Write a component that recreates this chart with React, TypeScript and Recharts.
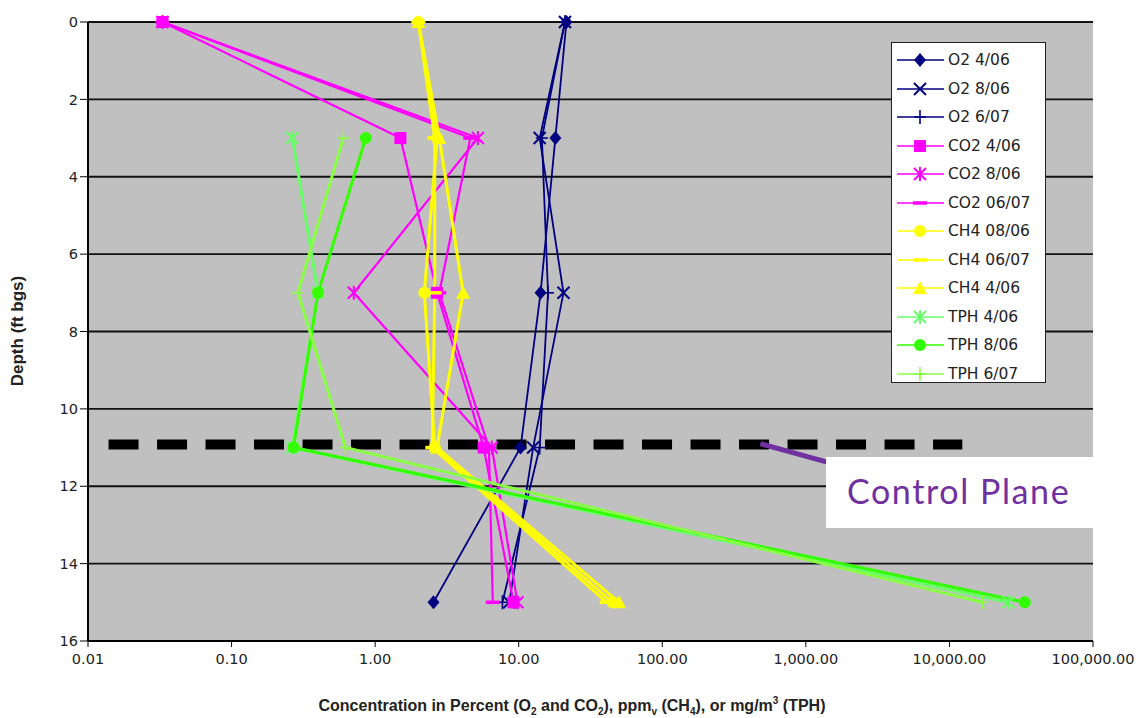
import React from "react";
import {
  LineChart,
  Line,
  XAxis,
  YAxis,
  CartesianGrid,
  ReferenceLine,
} from "recharts";

// depth samples (ft bgs)
const depths = [0, 3, 7, 11, 15];
const tphDepths = [3, 7, 11, 15];

// O2 (%)
const o2Apr06 = [21.5, 18, 14.2, 10.3, 2.55];
const o2Aug06 = [21, 14, 20.5, 12.6, 8.6];
const o2Jun07 = [21, 14.5, 16, 14, 7.7];

// CO2 (%)
const co2Apr06 = [0.033, 1.5, 2.7, 5.7, 9.2];
const co2Aug06 = [0.033, 5.2, 0.71, 6.5, 9.8];
const co2Jun07 = [0.033, 4.6, 2.8, 6.2, 6.6];

// CH4 (ppmv)
const ch4Aug06 = [2.0, 2.7, 2.2, 2.6, 45];
const ch4Jun07 = [2.0, 2.6, 2.6, 2.5, 41];
const ch4Apr06 = [2.0, 2.8, 4.1, 2.7, 50];

// TPH (mg/m3)
const tphApr06 = [0.265, 0.4, 0.265, 25700];
const tphAug06 = [0.86, 0.4, 0.27, 33500];
const tphJun07 = [0.6, 0.29, 0.62, 17000];

const xTicks = [0.01, 0.1, 1, 10, 100, 1000, 10000, 100000];
const yTicks = [0, 2, 4, 6, 8, 10, 12, 14, 16];

type MarkerType = "diamond" | "x" | "plus" | "square" | "star" | "dash" | "circle" | "triangle";

interface Series {
  name: string;
  color: string;
  marker: MarkerType;
  width: number;
  values: number[];
  depth: number[];
}

const NAVY = "#000080";
const MAGENTA = "#ff00ff";
const YELLOW = "#ffff00";

const series: Series[] = [
  { name: "O2 4/06", color: NAVY, marker: "diamond", width: 1.8, values: o2Apr06, depth: depths },
  { name: "O2 8/06", color: NAVY, marker: "x", width: 1.8, values: o2Aug06, depth: depths },
  { name: "O2 6/07", color: NAVY, marker: "plus", width: 1.8, values: o2Jun07, depth: depths },
  { name: "CO2 4/06", color: MAGENTA, marker: "square", width: 2.2, values: co2Apr06, depth: depths },
  { name: "CO2 8/06", color: MAGENTA, marker: "star", width: 2.2, values: co2Aug06, depth: depths },
  { name: "CO2 06/07", color: MAGENTA, marker: "dash", width: 2.2, values: co2Jun07, depth: depths },
  { name: "CH4 08/06", color: YELLOW, marker: "circle", width: 3, values: ch4Aug06, depth: depths },
  { name: "CH4 06/07", color: YELLOW, marker: "dash", width: 3, values: ch4Jun07, depth: depths },
  { name: "CH4 4/06", color: YELLOW, marker: "triangle", width: 3, values: ch4Apr06, depth: depths },
  { name: "TPH 4/06", color: "#66ff66", marker: "star", width: 3, values: tphApr06, depth: tphDepths },
  { name: "TPH 8/06", color: "#33ff00", marker: "circle", width: 3, values: tphAug06, depth: tphDepths },
  { name: "TPH 6/07", color: "#88ff44", marker: "plus", width: 3, values: tphJun07, depth: tphDepths },
];

const Marker = ({ type, cx, cy, color }: { type: MarkerType; cx: number; cy: number; color: string }) => {
  const s = 6;
  switch (type) {
    case "diamond":
      return <polygon points={`${cx},${cy - s - 1} ${cx + s},${cy} ${cx},${cy + s + 1} ${cx - s},${cy}`} fill={color} />;
    case "square":
      return <rect x={cx - s} y={cy - s} width={2 * s} height={2 * s} fill={color} />;
    case "circle":
      return <circle cx={cx} cy={cy} r={s} fill={color} />;
    case "triangle":
      return <polygon points={`${cx},${cy - s - 1} ${cx + s + 1},${cy + s} ${cx - s - 1},${cy + s}`} fill={color} />;
    case "x":
      return (
        <g stroke={color} strokeWidth={2}>
          <line x1={cx - s} y1={cy - s} x2={cx + s} y2={cy + s} />
          <line x1={cx - s} y1={cy + s} x2={cx + s} y2={cy - s} />
        </g>
      );
    case "star":
      return (
        <g stroke={color} strokeWidth={2}>
          <line x1={cx - s} y1={cy - s} x2={cx + s} y2={cy + s} />
          <line x1={cx - s} y1={cy + s} x2={cx + s} y2={cy - s} />
          <line x1={cx} y1={cy - s - 1} x2={cx} y2={cy + s + 1} />
        </g>
      );
    case "plus":
      return (
        <g stroke={color} strokeWidth={1.6}>
          <line x1={cx} y1={cy - s - 1} x2={cx} y2={cy + s + 1} />
          <line x1={cx - s} y1={cy} x2={cx + s} y2={cy} />
        </g>
      );
    case "dash":
      return <line x1={cx - s - 1} y1={cy} x2={cx + s + 1} y2={cy} stroke={color} strokeWidth={3.5} />;
  }
  return null;
};

const fmtTick = (v: number) =>
  v < 0.05 ? "0.01" : v.toLocaleString("en-US", { minimumFractionDigits: 2, maximumFractionDigits: 2 });

const LegendBox = () => (
  <div
    style={{
      position: "absolute",
      left: 891,
      top: 42,
      background: "#fff",
      border: "1.5px solid #222",
      width: 155,
      height: 341,
      boxSizing: "border-box",
      paddingTop: 3,
    }}
  >
    {series.map((s) => (
      <div key={s.name} style={{ display: "flex", alignItems: "center", height: 28.5 }}>
        <svg width={56} height={20} style={{ flex: "none" }}>
          <line x1={5} y1={10} x2={52} y2={10} stroke={s.color} strokeWidth={1.5} />
          <Marker type={s.marker} cx={28} cy={10} color={s.color} />
        </svg>
        <span style={{ fontFamily: "DejaVu Sans", fontSize: 15.5, color: "#222" }}>{s.name}</span>
      </div>
    ))}
  </div>
);

const sub = { fontSize: 10 };

const App: React.FC = () => {
  return (
    <div style={{ position: "absolute", left: 0, top: 0, width: 1141, height: 718, background: "#fff" }}>
      <LineChart width={1141} height={718} margin={{ top: 22, right: 48, bottom: 47, left: 28 }}>
        <CartesianGrid
          horizontal
          vertical={false}
          fill="#c0c0c0"
          stroke="#111"
          strokeWidth={1.8}
          horizontalValues={yTicks}
        />
        <XAxis
          type="number"
          dataKey="c"
          scale="log"
          domain={[0.01, 100000]}
          ticks={xTicks}
          tickFormatter={fmtTick}
          allowDataOverflow
          axisLine={{ stroke: "#000", strokeWidth: 2 }}
          tickLine={{ stroke: "#000" }}
          tickSize={6}
          tickMargin={7}
          tick={{ fontFamily: "DejaVu Sans", fontSize: 14.5, fill: "#222" }}
        />
        <YAxis
          type="number"
          dataKey="d"
          domain={[0, 16]}
          ticks={yTicks}
          reversed
          width={60}
          axisLine={{ stroke: "#000", strokeWidth: 2 }}
          tickLine={{ stroke: "#000" }}
          tickSize={8}
          tick={{ fontFamily: "DejaVu Sans", fontSize: 14.5, fill: "#222" }}
        />
        <ReferenceLine
          segment={[
            { x: 0.0139, y: 10.92 },
            { x: 12290, y: 10.92 },
          ]}
          stroke="#000"
          strokeWidth={10}
          strokeDasharray="30 18.5"
        />
        <ReferenceLine
          segment={[
            { x: 482, y: 10.9 },
            { x: 1390, y: 11.37 },
          ]}
          stroke="#7030a0"
          strokeWidth={5}
        />
        {series.map((s) => (
          <Line
            key={s.name}
            name={s.name}
            data={s.values.map((v, i) => ({ c: v, d: s.depth[i] }))}
            dataKey="d"
            stroke={s.color}
            strokeWidth={s.width}
            isAnimationActive={false}
            dot={(p: any) => (
              <g key={`${s.name}-${p.index}`}>
                <Marker type={s.marker} cx={p.cx} cy={p.cy} color={s.color} />
              </g>
            )}
            activeDot={false}
          />
        ))}
      </LineChart>

      <LegendBox />

      {/* axis titles */}
      <div
        style={{
          position: "absolute",
          left: 18,
          top: 331,
          transform: "translate(-50%, -50%) rotate(-90deg)",
          fontFamily: "Liberation Sans, Arial",
          fontWeight: "bold",
          fontSize: 17,
          color: "#222",
          whiteSpace: "nowrap",
        }}
      >
        Depth (ft bgs)
      </div>
      <div
        style={{
          position: "absolute",
          left: 572,
          top: 706,
          transform: "translate(-50%, -50%)",
          fontFamily: "Liberation Sans, Arial",
          fontWeight: "bold",
          fontSize: 16,
          color: "#222",
          whiteSpace: "nowrap",
        }}
      >
        Concentration in Percent (O<sub style={sub}>2</sub> and CO<sub style={sub}>2</sub>), ppm
        <sub style={sub}>v</sub> (CH<sub style={sub}>4</sub>), or mg/m<sup style={sub}>3</sup> (TPH)
      </div>

      {/* control plane callout */}
      <div
        style={{
          position: "absolute",
          left: 826,
          top: 457,
          width: 268,
          height: 71,
          background: "#fff",
          boxSizing: "border-box",
          paddingLeft: 21,
          paddingTop: 15,
          fontFamily: "Lato, Open Sans",
          fontSize: 34,
          letterSpacing: 1.6,
          lineHeight: "38px",
          color: "#7030a0",
          whiteSpace: "nowrap",
        }}
      >
        Control Plane
      </div>
    </div>
  );
};

export default App;
